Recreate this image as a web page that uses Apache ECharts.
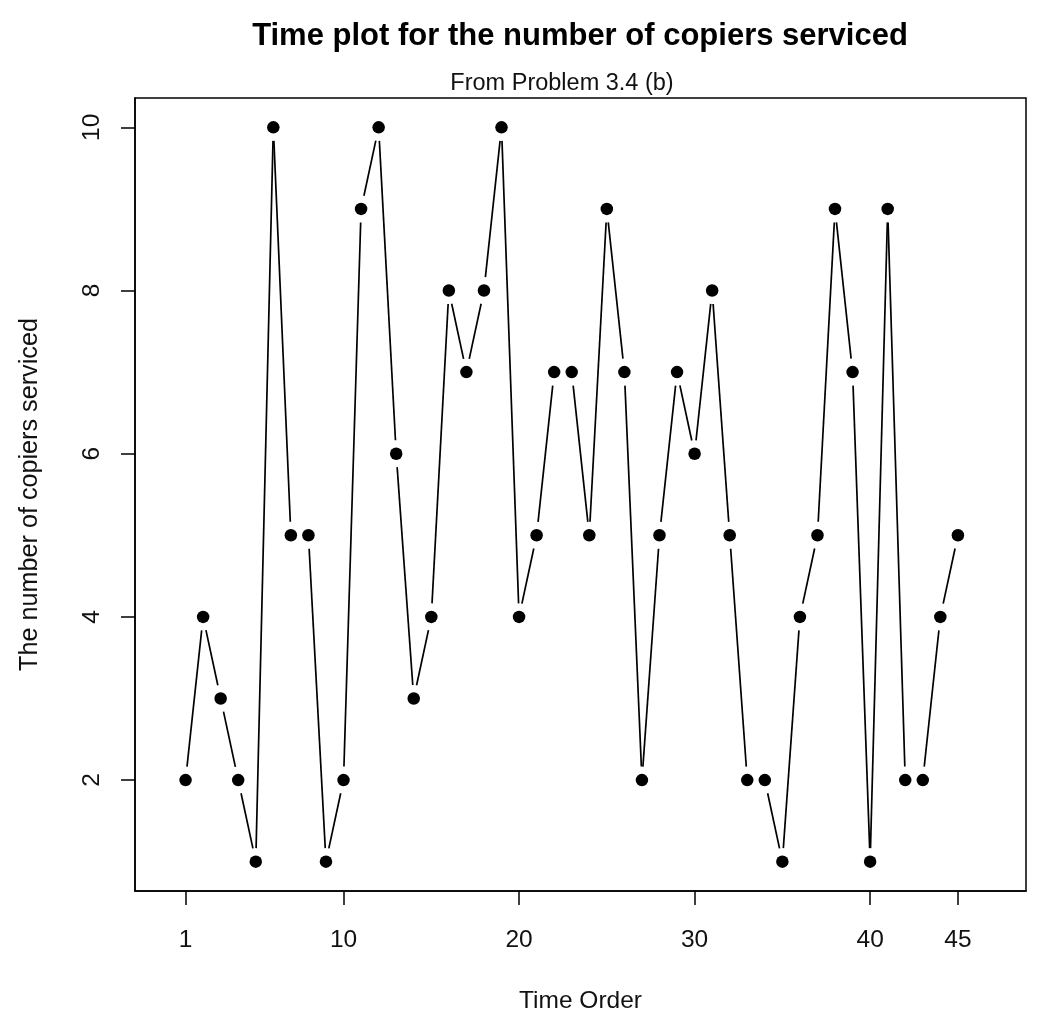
<!DOCTYPE html>
<html>
<head>
<meta charset="utf-8">
<title>Time plot for the number of copiers serviced</title>
<script src="https://cdn.jsdelivr.net/npm/echarts@6/dist/echarts.min.js"></script>
<style>
  html, body { margin: 0; padding: 0; background: #ffffff; }
  #chart { width: 1045px; height: 1019px; }
</style>
</head>
<body>
<div id="chart"></div>
<script>
// Observation index (time order) and number of copiers serviced
const timeOrder = [1, 2, 3, 4, 5, 6, 7, 8, 9, 10, 11, 12, 13, 14, 15, 16, 17, 18, 19, 20,
  21, 22, 23, 24, 25, 26, 27, 28, 29, 30, 31, 32, 33, 34, 35, 36, 37, 38, 39, 40,
  41, 42, 43, 44, 45];
const copiersServiced = [2, 4, 3, 2, 1, 10, 5, 5, 1, 2, 9, 10, 6, 3, 4, 8, 7, 8, 10, 4,
  5, 7, 7, 5, 9, 7, 2, 5, 7, 6, 8, 5, 2, 2, 1, 4, 5, 9, 7, 1,
  9, 2, 2, 4, 5];

// Axis tick positions
const xTicks = [1, 10, 20, 30, 40, 45];
const yTicks = [2, 4, 6, 8, 10];

const FONT = 'Arial, "Liberation Sans", sans-serif';
const BASE = 24.5;
const GAP = 13.5; // space left between a segment end and its point

const points = timeOrder.map((t, i) => [t, copiersServiced[i]]);
const segments = copiersServiced.slice(0, -1).map((v, i) =>
  [timeOrder[i], v, timeOrder[i + 1], copiersServiced[i + 1]]);

const chart = echarts.init(document.getElementById('chart'), null, { renderer: 'canvas' });

chart.setOption({
  backgroundColor: '#ffffff',
  animation: false,
  title: [
    {
      text: 'Time plot for the number of copiers serviced',
      left: 580, top: 21, padding: 0, textAlign: 'center',
      textStyle: { fontFamily: FONT, fontSize: 31, fontWeight: 'bold', color: '#000' }
    },
    {
      text: 'From Problem 3.4 (b)',
      left: 562, top: 72, padding: 0, textAlign: 'center',
      textStyle: { fontFamily: FONT, fontSize: 23.5, fontWeight: 'normal', color: '#111' }
    }
  ],
  grid: {
    left: 135, right: 19, top: 98, bottom: 126,
    show: true, borderColor: '#000', borderWidth: 1.5, backgroundColor: 'transparent'
  },
  xAxis: {
    type: 'value',
    min: -1.88, max: 48.88,
    name: 'Time Order',
    nameLocation: 'middle', nameGap: 98,
    nameTextStyle: { fontFamily: FONT, fontSize: BASE, color: '#111' },
    axisLine: { show: true, onZero: false, lineStyle: { color: '#000', width: 1.5 } },
    axisTick: { show: true, inside: false, length: 14, customValues: xTicks,
      lineStyle: { color: '#000', width: 1.5 } },
    axisLabel: { show: true, margin: 37, customValues: xTicks,
      fontFamily: FONT, fontSize: BASE, color: '#111' },
    splitLine: { show: false }
  },
  yAxis: {
    type: 'value',
    min: 0.64, max: 10.36,
    name: 'The number of copiers serviced',
    nameLocation: 'middle', nameGap: 92,
    nameTextStyle: { fontFamily: FONT, fontSize: 25.2, color: '#111' },
    axisLine: { show: true, onZero: false, lineStyle: { color: '#000', width: 1.5 } },
    axisTick: { show: true, inside: false, length: 14, customValues: yTicks,
      lineStyle: { color: '#000', width: 1.5 } },
    axisLabel: { show: true, rotate: 90, margin: 30, customValues: yTicks,
      fontFamily: FONT, fontSize: BASE, color: '#111' },
    splitLine: { show: false }
  },
  series: [
    {
      // connecting segments, stopped short of each point
      type: 'custom',
      coordinateSystem: 'cartesian2d',
      encode: { x: [0, 2], y: [1, 3] },
      data: segments,
      silent: true,
      renderItem: function (params, api) {
        const a = api.coord([api.value(0), api.value(1)]);
        const b = api.coord([api.value(2), api.value(3)]);
        const dx = b[0] - a[0], dy = b[1] - a[1];
        const len = Math.sqrt(dx * dx + dy * dy);
        if (len <= 2 * GAP) return null;
        const ux = dx / len, uy = dy / len;
        return {
          type: 'line',
          shape: { x1: a[0] + ux * GAP, y1: a[1] + uy * GAP, x2: b[0] - ux * GAP, y2: b[1] - uy * GAP },
          style: { stroke: '#000', lineWidth: 1.7 }
        };
      }
    },
    {
      type: 'scatter',
      data: points,
      symbol: 'circle',
      symbolSize: 12.5,
      itemStyle: { color: '#000', opacity: 1 },
      silent: true
    }
  ]
});
</script>
</body>
</html>
